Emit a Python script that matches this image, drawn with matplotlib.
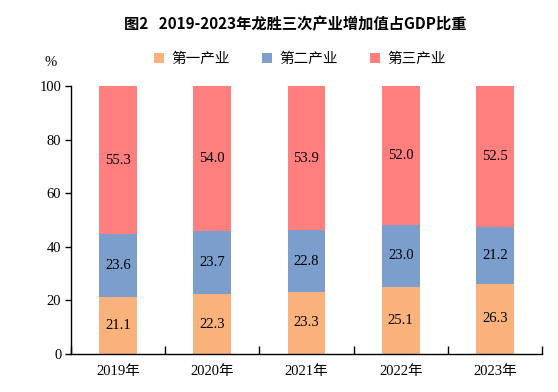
import numpy as np
import matplotlib
matplotlib.use("Agg")
import matplotlib.pyplot as plt
from matplotlib.patches import Patch

years = ["2019年", "2020年", "2021年", "2022年", "2023年"]
primary = [21.1, 22.3, 23.3, 25.1, 26.3]
secondary = [23.6, 23.7, 22.8, 23.0, 21.2]
tertiary = [55.3, 54.0, 53.9, 52.0, 52.5]
series_names = ["第一产业", "第二产业", "第三产业"]
colors = ["#F9B27B", "#7B9ECC", "#FF7F7F"]

num_font = ["Liberation Serif", "Noto Sans CJK SC"]
cjk_font = ["Noto Sans CJK SC", "DejaVu Sans"]

fig = plt.figure(figsize=(5.58, 3.92), dpi=100)
ax = fig.add_axes([71 / 558, 1 - 354 / 392, 471 / 558, 268 / 392])

x = np.arange(len(years))
bottom = np.zeros(len(years))
for vals, c in zip([primary, secondary, tertiary], colors):
    vals = np.array(vals)
    ax.bar(x, vals, width=0.4, bottom=bottom, color=c, edgecolor="none")
    for xi, b, v in zip(x, bottom, vals):
        ax.text(xi, b + v / 2, f"{v:.1f}", ha="center", va="center",
                fontsize=10.5, family=num_font, color="black")
    bottom = bottom + vals

ax.set_xlim(-0.5, len(years) - 0.5)
ax.set_ylim(0, 100)
ax.set_yticks(range(0, 101, 20))
ax.set_yticklabels([str(v) for v in range(0, 101, 20)], family=num_font, fontsize=10.5)
ax.set_xticks(x)
ax.set_xticklabels(years, family=num_font, fontsize=10.5)
ax.tick_params(axis="x", length=0, pad=8)
ax.tick_params(axis="y", length=4, width=1, pad=3)
# separator ticks between categories (pointing up)
ax.set_xticks(np.arange(-0.5, len(years), 1.0), minor=True)
ax.tick_params(axis="x", which="minor", direction="in", length=6, width=1)

for s in ["top", "right"]:
    ax.spines[s].set_visible(False)
for s in ["left", "bottom"]:
    ax.spines[s].set_linewidth(1)

fig.text(295 / 558, 1 - 24 / 392, "图2   2019-2023年龙胜三次产业增加值占GDP比重",
         ha="center", va="center", fontsize=11, fontweight="bold", family=cjk_font)
fig.text(51 / 558, 1 - 62 / 392, "%", ha="center", va="center", fontsize=10.5, family=num_font)

handles = [Patch(facecolor=c, edgecolor="none") for c in colors]
fig.legend(handles, series_names, loc="center", bbox_to_anchor=(300 / 558, 1 - 59 / 392),
           ncol=3, frameon=False, prop={"family": cjk_font, "size": 10.5},
           handlelength=0.7, handleheight=0.7, handletextpad=0.5, columnspacing=2.2)

fig.savefig("out.png", dpi=100)
